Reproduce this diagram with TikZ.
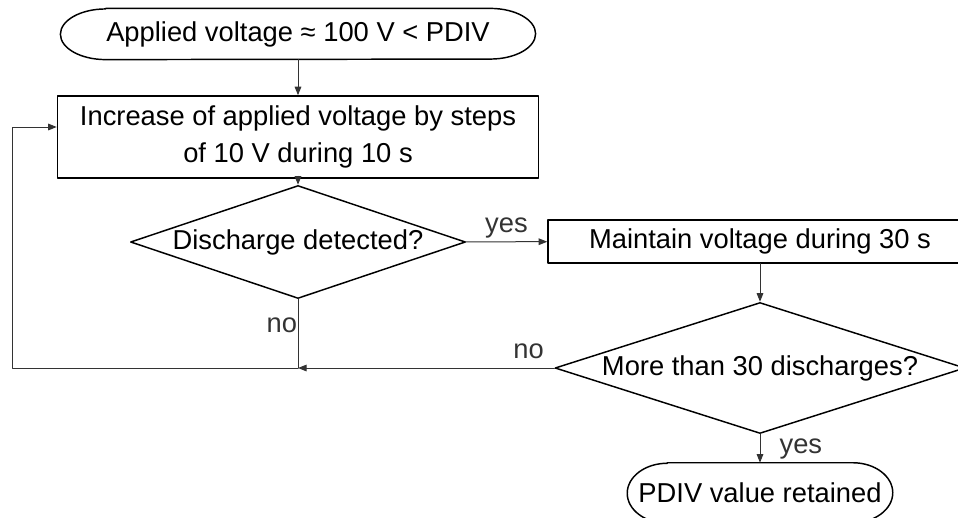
\documentclass[tikz,border=0pt]{standalone}
\usepackage{fontspec}
\setmainfont{Liberation Sans}
\usetikzlibrary{arrows.meta,shapes.geometric}

% outline of a terminal node: straight top and bottom, half-ellipse ends
\newcommand\drawterminal[3]{%
  \draw[shapeline] ([xshift=#2]#1.north west) -- ([xshift=-#2]#1.north east)
    arc[start angle=90,end angle=-90,x radius=#2,y radius=#3]
    -- ([xshift=#2]#1.south west)
    arc[start angle=270,end angle=90,x radius=#2,y radius=#3] -- cycle;}

\begin{document}
\begin{tikzpicture}[x=1pt,y=1pt,>={Triangle[length=6.5pt,width=5pt]},line cap=round,line join=round,
  every node/.style={font=\fontsize{20.5}{28}\selectfont},
  shapeline/.style={line width=1.1pt},
  flow/.style={line width=0.75pt,black!80},
  termnode/.style={inner sep=0pt},
  procbox/.style={draw,shapeline,inner sep=0pt,align=center},
  decision/.style={draw,shapeline,diamond,inner sep=0pt,aspect=3}]
\useasboundingbox (0,0) rectangle (718.5,-388.5);
\clip (0,0) rectangle (718.5,-388.5);
\coordinate (s) at (223.5,-25.5);
\coordinate (A) at (223.5,-102.75);
\coordinate (B) at (223.5,-181.5);
\coordinate (C) at (570,-181.1);
\coordinate (D) at (570,-276);
\coordinate (t) at (570,-369.75);
\coordinate (junc) at (223.5,-276);
\coordinate (loopbot) at (9,-276);
\coordinate (looptop) at (9,-95.25);
% nodes
\node[termnode,minimum width=356pt,minimum height=38pt] (start) at (s) {Applied voltage ≈ 100 V < PDIV};
\drawterminal{start}{34pt}{19pt}
\node[procbox,minimum width=360.75pt,minimum height=61.5pt] (incr) at (A) {Increase of applied voltage by steps\\of 10 V during 10 s};
\node[decision,minimum width=251.25pt,minimum height=84.75pt] (dec1) at (B) {Discharge detected?};
\node[procbox,minimum width=318pt,minimum height=32.25pt] (hold) at (C) {Maintain voltage during 30 s};
\node[decision,minimum width=307.5pt,minimum height=98.25pt] (dec2) at (D) {More than 30 discharges?};
\node[termnode,minimum width=198.75pt,minimum height=45pt] (finish) at (t) {PDIV value retained};
\drawterminal{finish}{30pt}{22.5pt}
% connectors
\draw[flow,->] (start) -- (incr);
\draw[flow,->] (incr) -- (dec1);
\draw[flow,->] (dec1) -- node[above,midway,yshift=-1pt]{yes} (hold);
\draw[flow,->] (hold) -- (dec2);
\draw[flow,->] (dec2) -- node[right,xshift=11pt]{yes} (finish);
\draw[flow,->] (dec2) -- node[above,pos=0.1,yshift=3pt]{no} (junc);
\draw[flow] (dec1) -- node[left,pos=0.38,xshift=3pt]{no} (junc);
\draw[flow,->] (junc) -- (loopbot) -- (looptop) -- (incr.west |- looptop);
\end{tikzpicture}
\end{document}
